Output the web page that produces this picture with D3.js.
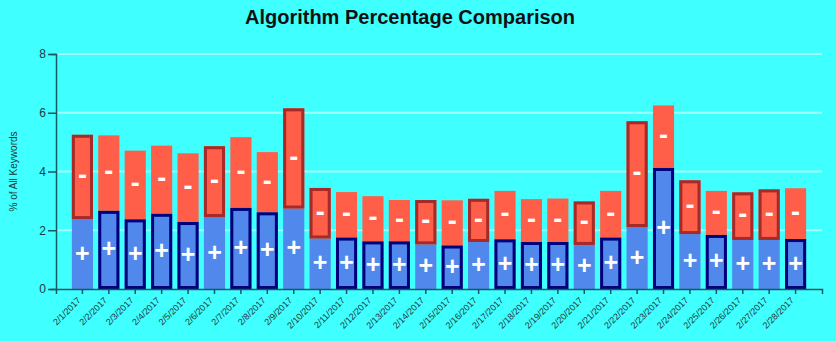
<!DOCTYPE html>
<html>
<head>
<meta charset="utf-8">
<script src="https://cdn.jsdelivr.net/npm/d3@7"></script>
<style>
  html, body { margin: 0; padding: 0; background: #40ffff; }
  svg { display: block; }
</style>
</head>
<body>
<svg id="chart" width="836" height="341"></svg>
<script>
// Daily share of all keywords for the two algorithms, February 2017
const dates = ["2/1/2017","2/2/2017","2/3/2017","2/4/2017","2/5/2017","2/6/2017","2/7/2017",
  "2/8/2017","2/9/2017","2/10/2017","2/11/2017","2/12/2017","2/13/2017","2/14/2017",
  "2/15/2017","2/16/2017","2/17/2017","2/18/2017","2/19/2017","2/20/2017","2/21/2017",
  "2/22/2017","2/23/2017","2/24/2017","2/25/2017","2/26/2017","2/27/2017","2/28/2017"];

// "+" algorithm (lower segment)
const plusPct = [2.38, 2.66, 2.37, 2.56, 2.28, 2.45, 2.76, 2.61, 2.74, 1.72, 1.75, 1.62, 1.62, 1.52,
  1.48, 1.60, 1.69, 1.60, 1.60, 1.50, 1.75, 2.11, 4.12, 1.87, 1.84, 1.67, 1.67, 1.70];

// "-" algorithm (upper segment)
const minusPct = [2.87, 2.57, 2.34, 2.32, 2.34, 2.41, 2.41, 2.05, 3.41, 1.72, 1.55, 1.54, 1.41, 1.51,
  1.54, 1.47, 1.65, 1.46, 1.48, 1.48, 1.59, 3.60, 2.13, 1.83, 1.50, 1.62, 1.72, 1.73];

// Algorithm marked as the day's pick
const picked = ["-","+","+","+","+","-","+","+","-","-","+","+","+","-",
  "+","-","+","+","+","-","+","-","+","-","+","-","-","+"];

const yTicks = [0, 2, 4, 6, 8];

const rows = dates.map((d, i) => ({
  date: d, plus: plusPct[i], minus: minusPct[i], pick: picked[i]
}));

const svg = d3.select("#chart");
const plotLeft = 56, plotRight = 822, plotTop = 54, plotBottom = 289;

const x = d3.scaleBand()
  .domain(dates)
  .range([plotLeft, plotRight])
  .paddingInner(0.2)
  .paddingOuter(0.6);

const y = d3.scaleLinear()
  .domain([0, 8])
  .range([plotBottom, plotTop]);

const axisColor = "#145a64";
const fontFamily = "Liberation Sans, Arial, sans-serif";

// Title
svg.append("text")
  .attr("x", 410)
  .attr("y", 24)
  .attr("text-anchor", "middle")
  .attr("font-family", fontFamily)
  .attr("font-weight", "bold")
  .attr("font-size", 20)
  .attr("fill", "#111")
  .text("Algorithm Percentage Comparison");

// Horizontal gridlines
svg.append("g")
  .selectAll("line")
  .data(yTicks.filter(t => t > 0))
  .join("line")
  .attr("x1", plotLeft + 2)
  .attr("x2", plotRight)
  .attr("y1", d => y(d))
  .attr("y2", d => y(d))
  .attr("stroke", "#a0ffff")
  .attr("stroke-width", 2);

// Stacked segments
const barG = svg.append("g");
barG.selectAll("rect.plus")
  .data(rows)
  .join("rect")
  .attr("class", "plus")
  .attr("x", d => x(d.date))
  .attr("width", x.bandwidth())
  .attr("y", d => y(d.plus))
  .attr("height", d => y(0) - y(d.plus))
  .attr("fill", "#5088ec");

barG.selectAll("rect.minus")
  .data(rows)
  .join("rect")
  .attr("class", "minus")
  .attr("x", d => x(d.date))
  .attr("width", x.bandwidth())
  .attr("y", d => y(d.plus + d.minus))
  .attr("height", d => y(d.plus) - y(d.plus + d.minus))
  .attr("fill", "#ff5e48");

// Outline around the picked algorithm's segment
barG.selectAll("rect.pick")
  .data(rows)
  .join("rect")
  .attr("class", "pick")
  .attr("x", d => x(d.date) + 1.5)
  .attr("width", x.bandwidth() - 3)
  .attr("y", d => d.pick === "+" ? y(d.plus) + 1.5 : y(d.plus + d.minus) + 1.5)
  .attr("height", d => (d.pick === "+" ? y(0) - y(d.plus) : y(d.plus) - y(d.plus + d.minus)) - 3)
  .attr("fill", "none")
  .attr("stroke", d => d.pick === "+" ? "#00007a" : "#a52a2a")
  .attr("stroke-width", 3);

// Segment symbols
const symG = svg.append("g")
  .attr("font-family", fontFamily)
  .attr("font-weight", "bold")
  .attr("fill", "#ffffff")
  .attr("text-anchor", "middle");

symG.selectAll("text.plus")
  .data(rows)
  .join("text")
  .attr("class", "plus")
  .attr("font-size", 25)
  .attr("x", d => x(d.date) + x.bandwidth() / 2)
  .attr("y", d => y(d.plus / 2))
  .attr("dy", "0.3em")
  .text("+");

symG.selectAll("text.minus")
  .data(rows)
  .join("text")
  .attr("class", "minus")
  .attr("font-size", 27)
  .attr("x", d => x(d.date) + x.bandwidth() / 2)
  .attr("y", d => y(d.plus + d.minus / 2))
  .attr("dy", "0.27em")
  .text("-");

// Axes
const yAxis = svg.append("g")
  .attr("transform", `translate(${plotLeft},0)`)
  .call(d3.axisLeft(y).tickValues(yTicks).tickSize(8).tickSizeOuter(6));
yAxis.selectAll("path, line").attr("stroke", axisColor).attr("stroke-width", 1.5);
yAxis.selectAll("text")
  .attr("font-family", fontFamily)
  .attr("font-size", 12)
  .attr("fill", "#1e3a40")
  .attr("x", -10);

const xAxis = svg.append("g")
  .attr("transform", `translate(0,${plotBottom})`)
  .call(d3.axisBottom(x).tickSize(5).tickSizeOuter(5));
xAxis.selectAll("path, line").attr("stroke", axisColor).attr("stroke-width", 1.5);
xAxis.selectAll("text")
  .attr("font-family", fontFamily)
  .attr("font-size", 9)
  .attr("fill", "#1e3a40")
  .attr("text-anchor", "end")
  .attr("dy", 0)
  .attr("y", 0)
  .attr("transform", "translate(-1,12) rotate(-45)");

// Y axis title
svg.append("text")
  .attr("transform", `translate(17,${(plotTop + plotBottom) / 2}) rotate(-90)`)
  .attr("text-anchor", "middle")
  .attr("font-family", fontFamily)
  .attr("font-size", 10)
  .attr("fill", "#1e3a40")
  .text("% of All Keywords");
</script>
</body>
</html>
